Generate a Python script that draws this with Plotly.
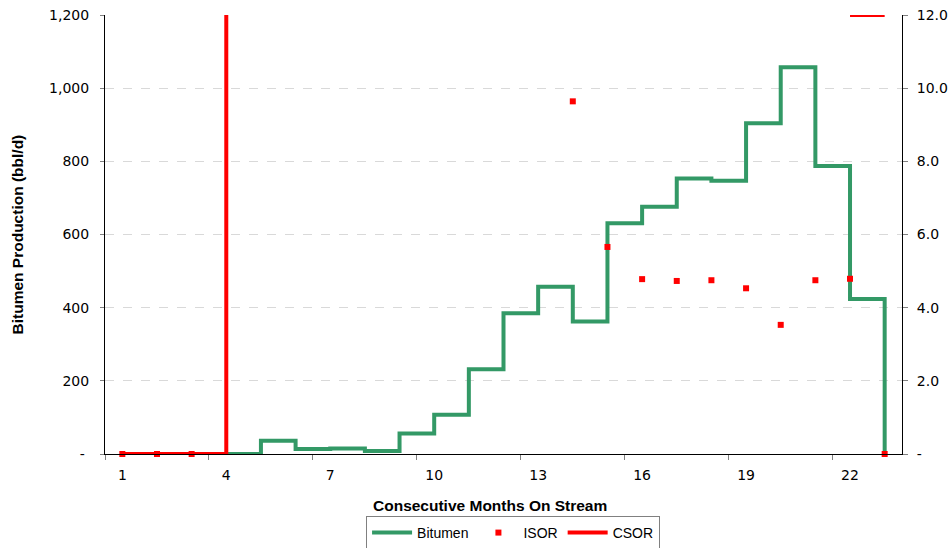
import plotly.graph_objects as go

# ---- data ----
months = list(range(1, 24))
bitumen = [0, 0, 0, 0, 36, 14, 15, 8, 56, 107, 232, 385, 457, 362,
           631, 676, 753, 747, 904, 1057, 787, 424, 0]
isor = [0, 0, 0, None, None, None, None, None, None, None, None, None, None,
        9.64, 5.66, 4.78, 4.73, 4.75, 4.53, 3.53, 4.75, 4.79, 0]
# CSOR: month 4 onward is off the 0-12 scale (clipped), back to the top edge at months 22-23
csor = [0, 0, 0, 50, None, None, None, None, None, None, None, None, None,
        None, None, None, None, None, None, None, None, 12.0, 12.0]

x_tick_vals = [1, 4, 7, 10, 13, 16, 19, 22]
x_tick_text = ["1", "4", "7", "10", "13", "16", "19", "22"]
y_tick_vals = [0, 200, 400, 600, 800, 1000, 1200]
y_tick_text = ["-\u00a0", "200", "400", "600", "800", "1,000", "1,200"]
y2_tick_vals = [0, 2, 4, 6, 8, 10, 12]
y2_tick_text = ["-", "2.0", "4.0", "6.0", "8.0", "10.0", "12.0"]

GREEN = "#339966"
RED = "#FF0000"
FONT = "Liberation Sans, Arial, sans-serif"
TICKFONT = dict(family="DejaVu Sans, Liberation Sans, sans-serif", size=14, color="black")

fig = go.Figure()
fig.add_trace(go.Scatter(
    x=months, y=bitumen, name="Bitumen", mode="lines",
    line=dict(color=GREEN, width=4, shape="hv"),
    cliponaxis=False, legendrank=1))
fig.add_trace(go.Scatter(
    x=months, y=csor, name="CSOR", mode="lines", yaxis="y2",
    line=dict(color=RED, width=4, shape="hv"),
    legendrank=3))
fig.add_trace(go.Scatter(
    x=months, y=isor, name="ISOR", mode="markers", yaxis="y2",
    marker=dict(color=RED, size=6, symbol="square"),
    cliponaxis=False, legendrank=2))

fig.update_layout(
    width=951, height=548,
    margin=dict(l=105, r=49, t=15, b=94, autoexpand=False),
    paper_bgcolor="white", plot_bgcolor="white",
    font=dict(family=FONT, size=14, color="black"),
    showlegend=True,
    legend=dict(orientation="h", x=0.512, xanchor="center",
                y=-0.1412, yanchor="top",
                bordercolor="#808080", borderwidth=1,
                itemwidth=40,
                font=dict(size=14, family=FONT, color="black")),
    xaxis=dict(range=[0.5, 23.5], tickvals=x_tick_vals, ticktext=x_tick_text,
               ticks="", showline=True, linecolor="black", linewidth=1,
               showgrid=False, zeroline=False, automargin=False,
               tickfont=TICKFONT, ticklabelstandoff=8,
               minor=dict(tick0=0.5, dtick=3, ticks="outside", ticklen=5,
                          tickcolor="#808080", showgrid=False)),
    yaxis=dict(range=[0, 1200], tickvals=y_tick_vals, ticktext=y_tick_text,
               ticks="outside", ticklen=4, tickcolor="#808080",
               showline=True, linecolor="black", linewidth=1,
               showgrid=True, gridcolor="#D9D9D9", griddash="dash", gridwidth=1,
               zeroline=False, automargin=False, tickfont=TICKFONT,
               ticklabelstandoff=8),
    yaxis2=dict(range=[0, 12], tickvals=y2_tick_vals, ticktext=y2_tick_text,
                overlaying="y", side="right", anchor="x",
                ticks="outside", ticklen=5, tickcolor="#808080",
                showline=True, linecolor="black", linewidth=1,
                showgrid=False, zeroline=False, automargin=False,
                tickfont=TICKFONT, ticklabelstandoff=6),
    annotations=[
        dict(text="<b>Consecutive Months On Stream</b>",
             xref="paper", yref="paper", x=0.483, y=-0.1162,
             xanchor="center", yanchor="middle", showarrow=False,
             font=dict(size=15.5, family=FONT, color="black")),
        dict(text="<b>Bitumen Production (bbl/d)</b>",
             xref="paper", yref="paper", x=-0.1092, y=0.5, textangle=-90,
             xanchor="center", yanchor="middle", showarrow=False,
             font=dict(size=15.5, family=FONT, color="black")),
    ],
)

fig.write_html("out.html",
               config={"displayModeBar": False},
               post_script="document.body.style.margin='0';document.body.style.overflow='hidden';")
